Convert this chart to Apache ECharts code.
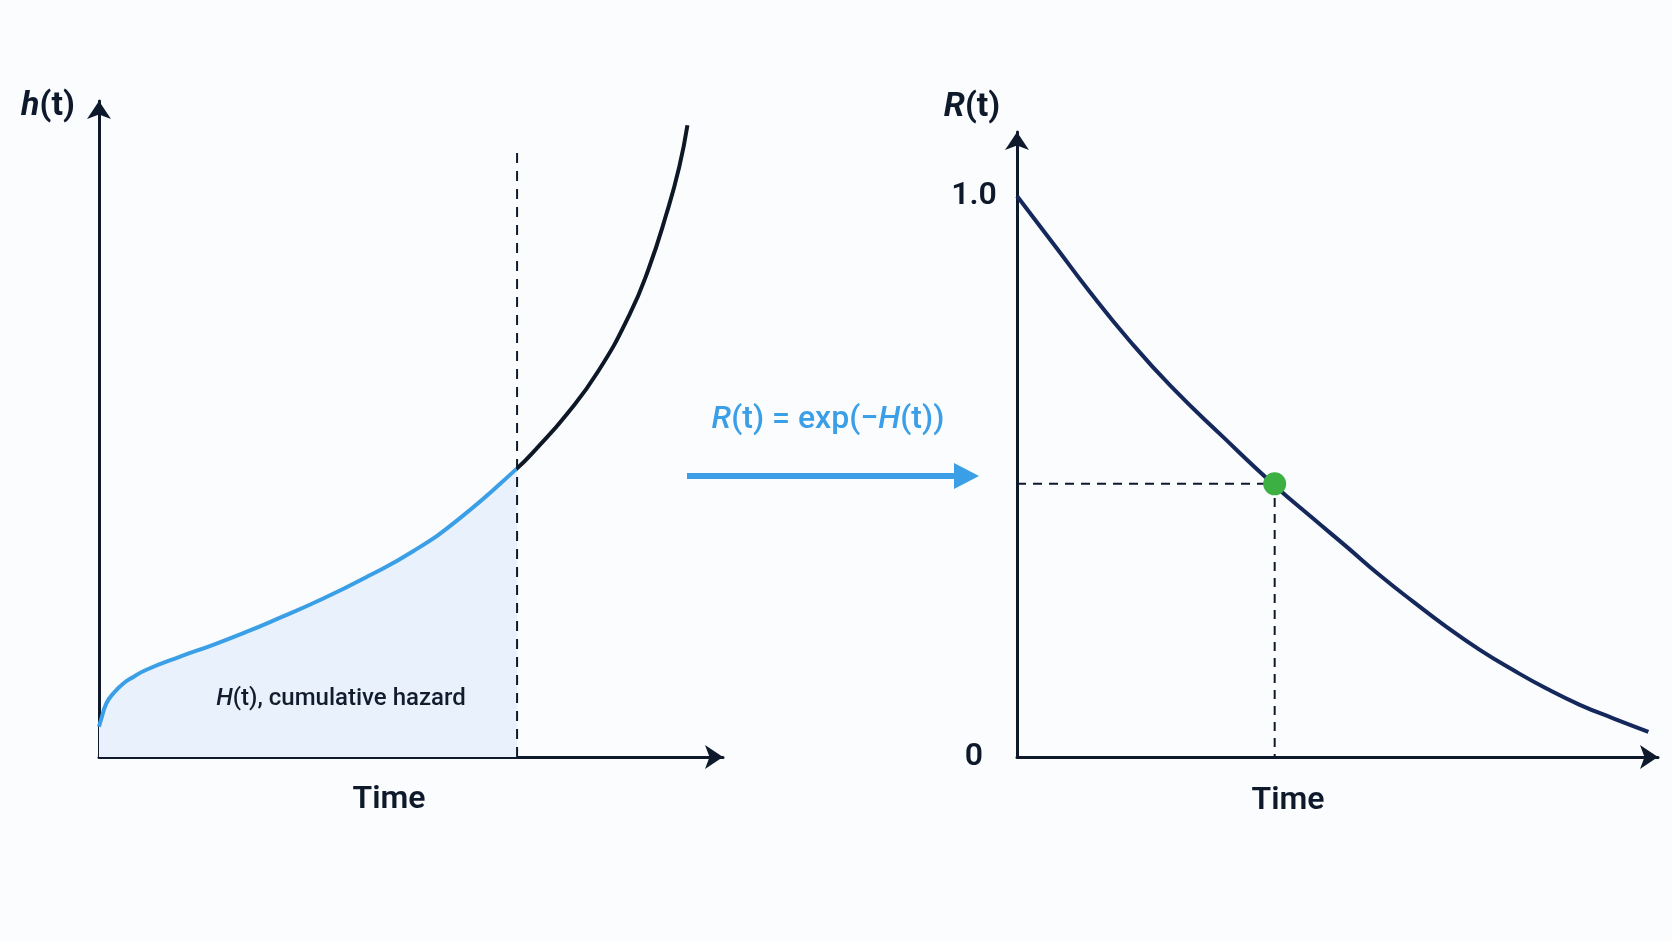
<!DOCTYPE html>
<html>
<head>
<meta charset="utf-8">
<script src="https://cdn.jsdelivr.net/npm/echarts@6/dist/echarts.min.js"></script>
<style>
html,body{margin:0;padding:0;background:#fbfcfd;}
#chart{width:1672px;height:941px;}
</style>
</head>
<body>
<div id="chart"></div>
<script>
// ---- data ----
const hazardTimes  = [0, 0.03, 0.12, 0.23, 0.39, 0.55, 0.76, 1.30, 1.83, 2.37, 2.82, 3.56, 4.30, 5.04, 5.77, 6.70, 7.00, 7.50, 8.00, 8.50, 8.80, 9.10, 9.30, 9.43];
const hazardValues = [0.46, 0.56, 0.82, 0.97, 1.12, 1.22, 1.33, 1.53, 1.71, 1.91, 2.09, 2.40, 2.75, 3.14, 3.63, 4.40, 4.69, 5.23, 5.88, 6.74, 7.42, 8.30, 9.00, 9.63];
const cutTime = 6.70;          // time t where H(t) is evaluated (left)
const cutLineTop = 9.33;       // top of the dashed marker (left)

const survivalTimes  = [0, 0.62, 1.11, 1.75, 2.40, 3.21, 4.01, 4.62, 5.14, 5.66, 6.18, 6.70, 7.22, 7.74, 8.26, 8.78, 9.30, 9.85];
const survivalValues = [1.0, 0.907, 0.833, 0.743, 0.661, 0.571, 0.485, 0.425, 0.375, 0.324, 0.277, 0.232, 0.191, 0.155, 0.122, 0.093, 0.069, 0.045];
const pointTime = 4.02;        // marked time (right)
const pointR = 0.487;          // R at marked time

const rTickValues = [0, 1];
const rTickLabels = ['0', '1.0'];

// ---- build ----
const hazard = hazardTimes.map((t, i) => [t, hazardValues[i]]);
const hazardBlue = hazard.filter(p => p[0] <= cutTime);
const survival = survivalTimes.map((t, i) => [t, survivalValues[i]]);

const AX = '#0e1a2c';
const BLUE = '#3a9fe6';
const NAVY = '#15285c';
const BLACK = '#0d1726';

const axisLine = {
  show: true,
  symbol: ['none', 'arrow'],
  symbolSize: [18, 18],
  lineStyle: { color: AX, width: 3 }
};
const hidden = { axisTick: { show: false }, axisLabel: { show: false }, splitLine: { show: false } };

const chart = echarts.init(document.getElementById('chart'), null, { renderer: 'canvas' });
chart.setOption({
  backgroundColor: '#fbfcfd',
  animation: false,
  grid: [
    { left: 99, right: 949, top: 101, bottom: 184 },
    { left: 1017, right: 14, top: 132, bottom: 184 }
  ],
  xAxis: [
    Object.assign({ gridIndex: 0, type: 'value', min: 0, max: 10, axisLine: axisLine }, hidden),
    Object.assign({ gridIndex: 1, type: 'value', min: 0, max: 10, axisLine: axisLine }, hidden)
  ],
  yAxis: [
    Object.assign({ gridIndex: 0, type: 'value', min: 0, max: 10, axisLine: axisLine }, hidden),
    { gridIndex: 1, type: 'value', min: 0, max: 1.1141, interval: 1, axisLine: axisLine,
      axisTick: { show: false }, splitLine: { show: false },
      axisLabel: {
        show: true, showMaxLabel: false, margin: 43, align: 'center', padding: [8, 0, 0, 0],
        fontFamily: 'Roboto', fontSize: 32, fontWeight: 600, color: AX,
        formatter: function (v) {
          const k = rTickValues.indexOf(Math.round(v * 1000) / 1000);
          return k >= 0 ? rTickLabels[k] : '';
        }
      } }
  ],
  series: [
    { id: 'area', type: 'line', xAxisIndex: 0, yAxisIndex: 0, data: hazardBlue, smooth: 0.5,
      showSymbol: false, lineStyle: { width: 0, opacity: 0 },
      areaStyle: { color: '#e9f2fc', opacity: 1 }, z: 2 },
    { id: 'hazard', type: 'line', xAxisIndex: 0, yAxisIndex: 0, data: hazard, smooth: 0.5,
      showSymbol: false, lineStyle: { width: 4, color: BLACK }, z: 3 },
    { type: 'line', xAxisIndex: 0, yAxisIndex: 0, data: [[cutTime, 0], [cutTime, cutLineTop]],
      showSymbol: false, lineStyle: { color: AX, width: 2, type: [10, 8] }, z: 4 },
    { type: 'line', xAxisIndex: 1, yAxisIndex: 1, data: survival, smooth: 0.5,
      showSymbol: false, lineStyle: { color: NAVY, width: 4 }, z: 3 },
    { type: 'line', xAxisIndex: 1, yAxisIndex: 1, data: [[0, pointR], [pointTime, pointR], [pointTime, 0]],
      showSymbol: false, lineStyle: { color: AX, width: 2, type: [9, 7] }, z: 2 },
    { type: 'scatter', xAxisIndex: 1, yAxisIndex: 1, data: [[pointTime, pointR]],
      symbolSize: 23, itemStyle: { color: '#3cb043', opacity: 1 }, z: 6 }
  ],
  graphic: [
    { type: 'text', z: 10, style: {
        x: 48, y: 106, align: 'center', verticalAlign: 'middle',
        text: '{i|h}{n|(t)}',
        rich: {
          i: { fontFamily: 'Roboto', fontSize: 34, fontWeight: 700, fontStyle: 'italic', fill: AX },
          n: { fontFamily: 'Roboto', fontSize: 34, fontWeight: 700, fill: AX }
        } } },
    { type: 'text', z: 10, style: {
        x: 972, y: 107, align: 'center', verticalAlign: 'middle',
        text: '{i|R}{n|(t)}',
        rich: {
          i: { fontFamily: 'Roboto', fontSize: 34, fontWeight: 700, fontStyle: 'italic', fill: AX },
          n: { fontFamily: 'Roboto', fontSize: 34, fontWeight: 700, fill: AX }
        } } },
    { type: 'text', z: 10, style: {
        x: 389, y: 800, align: 'center', verticalAlign: 'middle',
        text: 'Time', fontFamily: 'Roboto', fontSize: 32, fontWeight: 600, fill: AX } },
    { type: 'text', z: 10, style: {
        x: 1288, y: 801, align: 'center', verticalAlign: 'middle',
        text: 'Time', fontFamily: 'Roboto', fontSize: 32, fontWeight: 600, fill: AX } },
    { type: 'text', z: 10, style: {
        x: 341, y: 699, align: 'center', verticalAlign: 'middle',
        text: '{i|H}{n|(t), cumulative hazard}',
        rich: {
          i: { fontFamily: 'Roboto', fontSize: 24, fontWeight: 500, fontStyle: 'italic', fill: '#111c2c' },
          n: { fontFamily: 'Roboto', fontSize: 24, fontWeight: 500, fill: '#111c2c' }
        } } },
    { type: 'text', z: 10, style: {
        x: 828, y: 420, align: 'center', verticalAlign: 'middle',
        text: '{i|R}{n|(t) = exp(\u2212}{i|H}{n|(t))}',
        rich: {
          i: { fontFamily: 'Roboto', fontSize: 32, fontWeight: 500, fontStyle: 'italic', fill: BLUE },
          n: { fontFamily: 'Roboto', fontSize: 32, fontWeight: 500, fill: BLUE }
        } } },
    { type: 'line', z: 10, shape: { x1: 687, y1: 476, x2: 960, y2: 476 },
      style: { stroke: BLUE, lineWidth: 6 } },
    { type: 'polygon', z: 10, shape: { points: [[954, 463], [979, 476], [954, 489]] },
      style: { fill: BLUE } }
  ]
});

// colour the hazard curve blue up to the cut time, black after (hard gradient stop, via the axis scale)
const x0 = chart.convertToPixel({ xAxisIndex: 0 }, 0);
const x1 = chart.convertToPixel({ xAxisIndex: 0 }, 10);
const xc = chart.convertToPixel({ xAxisIndex: 0 }, cutTime);
const f = (xc - x0) / (x1 - x0);
chart.setOption({
  series: [{
    id: 'hazard',
    lineStyle: {
      color: new echarts.graphic.LinearGradient(x0, 0, x1, 0, [
        { offset: 0, color: BLUE }, { offset: f, color: BLUE },
        { offset: f, color: BLACK }, { offset: 1, color: BLACK }
      ], true)
    }
  }]
});
</script>
</body>
</html>
